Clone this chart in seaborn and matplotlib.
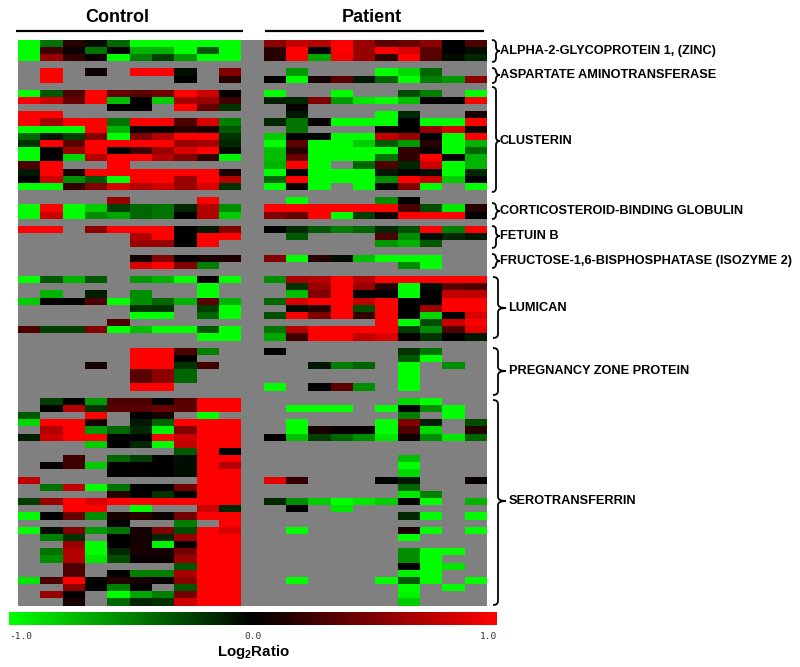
import numpy as np
import pandas as pd
import matplotlib
matplotlib.use("Agg")
import matplotlib.pyplot as plt
from matplotlib.colors import LinearSegmentedColormap
from matplotlib.path import Path
from matplotlib.patches import PathPatch
import seaborn as sns

n = np.nan
B = [n] * 10

ALPHA_CONTROL = [
    [-1, -.45, .15, -.05, -.4, -1, -1, -1, -1, -1],
    [-1, .25, .05, -.45, 0, -.7, -.7, -1, -.35, -1],
    [-1, .6, .2, .05, -1, -.5, -.25, -.6, -1, -1],
]
ALPHA_PATIENT = [
    [.55, .75, .7, 1, .6, .35, .4, .55, 0, .3],
    [.15, 1, 0, 1, .6, 1, .85, .35, 0, -.05],
    [.15, 1, -.65, .95, .6, .2, 1, .35, -.05, -.15],
]
AST_CONTROL = [
    [n, 1, n, .05, n, 1, 1, -.05, n, .5],
    [n, 1, n, n, n, n, n, 0, n, .15],
]
AST_PATIENT = [
    [n, -.6, n, n, n, -1, -.85, -.4, n, n],
    [.03, -1, .1, .35, -.1, -.4, -1, -.5, -.6, .55],
]
CLU_CONTROL = [
    [-1, -.35, .3, 1, .4, .35, .45, 1, .8, .03],
    [1, .8, .4, 1, -.75, 0, -.8, .65, .6, .25],
    [n, n, n, n, 0, 0, n, 1, .4, -.2],
    [1, 1, n, n, n, n, n, n, n, n],
    [1, .65, 1, 1, -.45, 1, 1, .3, .85, -.5],
    [-1, -1, -1, 1, -.7, .05, .03, .15, .1, -.35],
    [-.4, -.1, -.25, .5, -1, .5, .7, 1, 1, -.2],
    [-.2, 1, .35, 1, 1, 1, 1, .6, .65, -.15],
    [-1, 0, .6, 1, 0, .25, .6, .85, 1, -.05],
    [-1, 0, -.85, .7, 1, 1, .7, .5, .2, -.95],
    [.3, 1, n, n, 1, n, n, n, n, n],
    [-.1, 1, .1, 1, 1, 1, 1, 1, 1, .1],
    [0, .8, -.55, -.35, -1, 1, 1, .6, 1, .7],
    [-1, -1, .2, .5, .85, .7, .8, .6, .85, -.2],
]
CLU_PATIENT = [
    [-1, n, n, -1, n, n, -.3, -.5, n, -1],
    [-.12, -.15, .5, -.6, -.9, -1, -.75, 0, 0, 1],
    [n, .03, n, n, n, n, n, n, n, n],
    [n, -.1, n, n, n, -1, -.15, n, n, .1],
    [-.15, -.45, .03, -1, -1, -1, 0, -1, -1, 1],
    [n, -.45, n, n, n, .03, 0, .6, .85, .05],
    [-.8, 0, -.03, -1, -1, .75, .6, 0, -1, 1],
    [-1, .35, -1, -1, -.8, -.35, -.6, .15, -1, -.7],
    [-.75, .15, -1, -1, -1, -1, .2, .05, -1, -.4],
    [-.75, .4, -1, -1, -1, -.45, .2, 1, 0, -.7],
    [-.7, 1, -1, n, -.4, .3, -.15, .8, -1, -.7],
    [-1, 0, -1, -1, -1, -.1, .03, -.05, -1, -.15],
    [-.4, 1, -1, -1, -1, -.55, 1, .8, -.8, 0],
    [-1, .05, -1, n, -1, -.03, .5, -1, n, -1],
]
CBG_CONTROL = [
    [n, n, n, n, .6, n, n, n, 1, n],
    [-1, 1, -1, -.8, -.25, -.4, -.45, -.15, .7, -.55],
    [-1, .8, -1, -.55, -.65, -.4, -.45, 0, .7, -.8],
]
CBG_PATIENT = [
    [n, -1, n, n, n, -.55, 0, n, n, n],
    [1, 1, 1, 1, 1, 1, .3, -.3, -.9, .15],
    [.5, .4, 1, -1, -.25, .1, 1, 1, 1, 0],
]
FET_CONTROL = [
    [1, 1, n, .55, 1, 1, 1, 0, -.1, .5],
    [n, n, n, n, n, .7, 1, 0, 1, 1],
    [n, n, n, n, n, .6, .6, 0, 1, n],
]
FET_PATIENT = [
    [0, -.15, -.35, -.5, -.4, -.15, -.3, 1, -.5, 1],
    [n, -.35, n, n, n, .3, -.55, -.05, -.15, -.1],
    [n, n, n, n, n, -.6, -.7, -.35, n, n],
]
FBP_CONTROL = [
    [n, n, n, n, n, .08, .5, .03, .1, .12],
    [n, n, n, n, n, .85, 1, .5, -.5, n],
]
FBP_PATIENT = [
    [.5, -1, .15, -.05, -.75, -1, -1, -1, n, n],
    [n, n, n, n, n, n, -.55, -1, n, n],
]
LUM_CONTROL = [
    [-1, -.35, -.7, -.35, n, -.6, -.7, -1, 0, -1],
    [n, n, n, n, n, n, n, n, -1, n],
    [n, -.7, n, -.12, n, -.55, n, n, -1, n],
    [-.8, 0, 0, .3, -1, -.55, -.4, -.7, .35, -.7],
    [n, n, n, n, n, -.2, -.2, n, -.25, -1],
    [n, n, n, n, n, -1, -1, n, -.4, -1],
    [n, n, n, n, .3, n, n, n, n, n],
    [.3, -.25, -.25, .5, -1, -.75, -1, -1, -.35, -1],
    [n, n, n, n, n, n, n, n, -1, -1],
]
LUM_PATIENT = [
    [-.55, .65, .7, 1, .7, 1, 1, 1, 1, 1],
    [n, -.2, .6, 1, .6, .15, -1, -.05, .35, .3],
    [n, -.75, .5, 1, 0, .03, -1, 0, .75, .75],
    [-.4, .85, 1, 1, .75, 1, 0, 0, 1, 1],
    [n, -.05, .15, 1, -.3, 1, 0, .6, 1, 1],
    [-.3, 1, .5, 1, .2, 1, 0, -.85, 0, .85],
    [n, n, n, n, n, 1, -1, -.3, .8, 1],
    [-.45, .7, 1, 1, 1, 1, -.25, -.55, .3, .9],
    [-.65, .25, 1, 1, .75, .85, .03, -.2, 0, -.1],
]
PZP_CONTROL = [
    [n, n, n, n, n, 1, 1, .3, -.5, n],
    [n, n, n, n, n, 1, 1, 0, n, n],
    [n, n, n, .08, n, 1, 1, -.2, .25, n],
    [n, n, n, n, n, .35, .55, -.4, n, n],
    [n, n, n, n, n, .35, .55, -.4, n, n],
    [n, n, n, n, n, 1, 1, n, n, n],
]
PZP_PATIENT = [
    [0, n, n, n, n, n, -.2, -.45, n, n],
    [n, n, n, n, n, n, -.35, -1, n, n],
    [n, n, -.08, -.5, -.4, n, -1, n, -.55, n],
    [n, n, n, n, n, n, -1, n, n, n],
    [n, n, n, n, n, n, -1, n, n, n],
    [-1, n, 0, .35, -.55, n, -1, n, n, n],
]
SER_CONTROL = [
    [n, -.25, 0, -.6, .3, .3, 0, .35, 1, 1],
    [n, 0, .7, -.2, .35, .35, .4, .35, 1, 1],
    [-.35, n, n, 1, n, 0, .1, n, -1, n],
    [-.85, 1, 1, .1, n, -.1, -.4, 1, 1, 1],
    [n, .7, 1, -.6, -.4, -.15, -.95, .5, 1, 1],
    [-.12, .8, 1, 1, 0, 0, 1, .8, 1, 1],
    [n, n, n, -.8, 0, -.15, -1, .75, 1, 1],
    [n, n, n, n, n, n, n, -.35, 1, 0],
    [n, n, .25, n, -.4, -.25, 0, -.05, 1, 1],
    [n, .03, .25, -.8, 0, .02, 0, -.05, 1, .7],
    [n, n, n, n, 0, .02, 0, -.05, 1, 1],
    [.75, n, n, n, n, n, n, n, 1, 1],
    [n, -.45, .75, -1, -.45, 0, 0, .45, 1, 1],
    [n, n, n, n, .15, 0, -.2, 0, 1, 1],
    [-.25, .6, 1, .85, 1, 1, 1, 1, 1, 1],
    [n, n, 1, 1, n, -1, n, n, .8, -.15],
    [-1, 0, .4, -.55, .1, .15, .05, .45, 1, 1],
    [n, n, n, n, 0, n, n, -.5, n, 1],
    [-1, -.05, .5, -.6, -.45, .08, .5, -.3, 1, .85],
    [n, -.5, -.2, n, 0, .08, -.15, .6, 1, 1],
    [n, n, .6, -1, 0, .08, -.95, .03, 1, 1],
    [n, -.45, .7, -1, -.15, .1, .1, .45, 1, 1],
    [n, -.55, .7, -.9, -.3, .03, .05, .6, 1, 1],
    [n, n, .3, n, n, n, n, -.35, 1, 1],
    [n, n, .3, n, 0, -.5, -.5, .65, 1, 1],
    [-.9, .3, 1, 0, .15, .1, .03, .55, 1, 1],
    [n, n, .55, 0, -.5, 0, n, -.35, 1, 1],
    [n, .6, 0, n, -1, -.65, -.5, .45, 1, 1],
    [n, n, .1, n, -.4, -.15, -.2, .8, 1, 1],
]
SER_PATIENT = [
    [n, n, n, n, n, n, -.85, -1, n, n],
    [n, -1, -1, -1, n, -1, 0, -.55, -1, n],
    [n, n, n, n, n, n, -.5, n, -1, n],
    [n, -1, n, n, n, -1, .5, -.12, n, -.3],
    [n, -1, .1, .03, .03, -1, .3, -.85, n, .15],
    [.02, -.75, -.25, -.4, -.55, -.9, .05, -.55, -.9, -.4],
    B, B,
    [n, n, n, n, n, n, -.75, n, n, n],
    [n, n, n, n, n, n, -1, n, n, n],
    [n, n, n, n, n, n, -.85, n, n, n],
    [.9, .2, n, n, n, -.03, -.1, n, n, .03],
    [n, n, n, n, n, n, -.4, n, n, n],
    [n, n, n, n, n, n, -.9, -.5, n, n],
    [-.15, -.55, -.8, -1, -.9, -.8, 0, -1, n, -.7],
    [n, 0, n, -.9, n, n, n, n, n, n],
    [n, n, n, n, n, n, -.15, -1, n, -1],
    B,
    [n, -1, n, n, n, n, .1, -1, n, -1],
    [n, n, n, n, n, n, -1, n, n, n],
    B,
    [n, n, n, n, n, n, -.55, -1, -1, n],
    [n, n, n, n, n, n, -.55, -1, n, n],
    [n, n, n, n, n, n, 0, -1, -.9, n],
    [n, n, n, n, n, n, -.95, -1, n, n],
    [n, -1, n, n, n, -1, -.35, -1, n, -1],
    [n, n, n, n, n, n, -1, n, -1, n],
    [n, n, n, n, n, n, -.95, n, n, n],
    [n, n, n, n, n, n, -.8, n, n, n],
]

GROUP_NAMES = ["ALPHA-2-GLYCOPROTEIN 1, (ZINC)", "ASPARTATE AMINOTRANSFERASE", "CLUSTERIN",
               "CORTICOSTEROID-BINDING GLOBULIN", "FETUIN B",
               "FRUCTOSE-1,6-BISPHOSPHATASE (ISOZYME 2)", "LUMICAN",
               "PREGNANCY ZONE PROTEIN", "SEROTRANSFERRIN"]
CONTROL_GROUPS = [ALPHA_CONTROL, AST_CONTROL, CLU_CONTROL, CBG_CONTROL, FET_CONTROL,
                  FBP_CONTROL, LUM_CONTROL, PZP_CONTROL, SER_CONTROL]
PATIENT_GROUPS = [ALPHA_PATIENT, AST_PATIENT, CLU_PATIENT, CBG_PATIENT, FET_PATIENT,
                  FBP_PATIENT, LUM_PATIENT, PZP_PATIENT, SER_PATIENT]

rows = []
for gi, (cg, pg) in enumerate(zip(CONTROL_GROUPS, PATIENT_GROUPS)):
    for c, p in zip(cg, pg):
        rows.append(list(c) + [n] + list(p))
    if gi < len(CONTROL_GROUPS) - 1:
        rows.append([n] * 21)
matrix = pd.DataFrame(rows)

plt.rcParams["mathtext.fontset"] = "custom"
plt.rcParams["mathtext.bf"] = "Liberation Sans:bold"

W, H = 800, 667
fig = plt.figure(figsize=(W / 100, H / 100), dpi=100, facecolor="white")


def axes_px(x0, y0, x1, y1):
    return fig.add_axes([x0 / W, 1 - y1 / H, (x1 - x0) / W, (y1 - y0) / H])


cmap = LinearSegmentedColormap.from_list("gbr", ["#00ff00", "#000000", "#ff0000"], N=256)
ax = axes_px(18, 39.7, 487, 605.5)
cax = axes_px(9, 612, 497, 625)
ax.set_facecolor("#808080")
sns.heatmap(matrix, ax=ax, cmap=cmap, vmin=-1, vmax=1, cbar=True, cbar_ax=cax,
            cbar_kws={"orientation": "horizontal"}, xticklabels=False, yticklabels=False)
cb = ax.collections[0].colorbar
cb.outline.set_visible(False)
cb.set_ticks([-1, 0, 1])
cb.set_ticklabels(["-1.0", "0.0", "1.0"])
cax.tick_params(length=0, pad=5, labelsize=6.8, labelcolor="#333333")
for lab, ha in zip(cax.get_xticklabels(), ["left", "center", "right"]):
    lab.set_ha(ha)
    lab.set_family("DejaVu Sans Mono")

ov = fig.add_axes([0, 0, 1, 1], facecolor="none")
ov.set_xlim(0, W)
ov.set_ylim(H, 0)
ov.axis("off")
bold = dict(family="Liberation Sans", weight="bold", color="black")


def brace(x0, xm, x1, ytop, ybot, yc):
    r = 4
    verts = [(x0, ytop), (xm, ytop), (xm, ytop + r), (xm, yc - r), (xm, yc), (x1, yc),
             (xm, yc), (xm, yc + r), (xm, ybot - r), (xm, ybot), (x0, ybot)]
    codes = [Path.MOVETO, Path.CURVE3, Path.CURVE3, Path.LINETO, Path.CURVE3, Path.CURVE3,
             Path.CURVE3, Path.CURVE3, Path.LINETO, Path.CURVE3, Path.CURVE3]
    ov.add_patch(PathPatch(Path(verts, codes), fc="none", ec="black", lw=1.3))


BRACES = [(492, 496, 500, 40, 62, 51, 500), (492, 496, 500, 68, 83, 75, 500),
          (492, 496, 500, 87, 192, 141, 500), (492, 496, 500, 203, 219, 211, 500),
          (492, 496, 500, 226, 248, 236, 500), (492, 496, 500, 254, 268, 261, 500),
          (493, 498, 506, 277, 338, 308, 508), (493, 498, 506, 348, 395, 371, 509),
          (493, 498, 506, 400, 605, 501, 509)]
for name, (x0, xm, x1, yt, yb, yc, tx) in zip(GROUP_NAMES, BRACES):
    brace(x0, xm, x1, yt, yb, yc)
    ov.text(tx, yc, name, fontsize=9.15, ha="left", va="center", **bold)

ov.text(117, 17, "Control", fontsize=13, ha="center", va="center", **bold)
ov.text(372, 17, "Patient", fontsize=13, ha="center", va="center", **bold)
ov.plot([16, 242.5], [31, 31], color="black", lw=1.6, solid_capstyle="butt")
ov.plot([265, 484], [31, 31], color="black", lw=1.6, solid_capstyle="butt")
ov.text(253, 652, r"Log$_{\mathbf{2}}$Ratio", fontsize=10.8, ha="center", va="center", **bold)

fig.savefig("out.png", dpi=100)
